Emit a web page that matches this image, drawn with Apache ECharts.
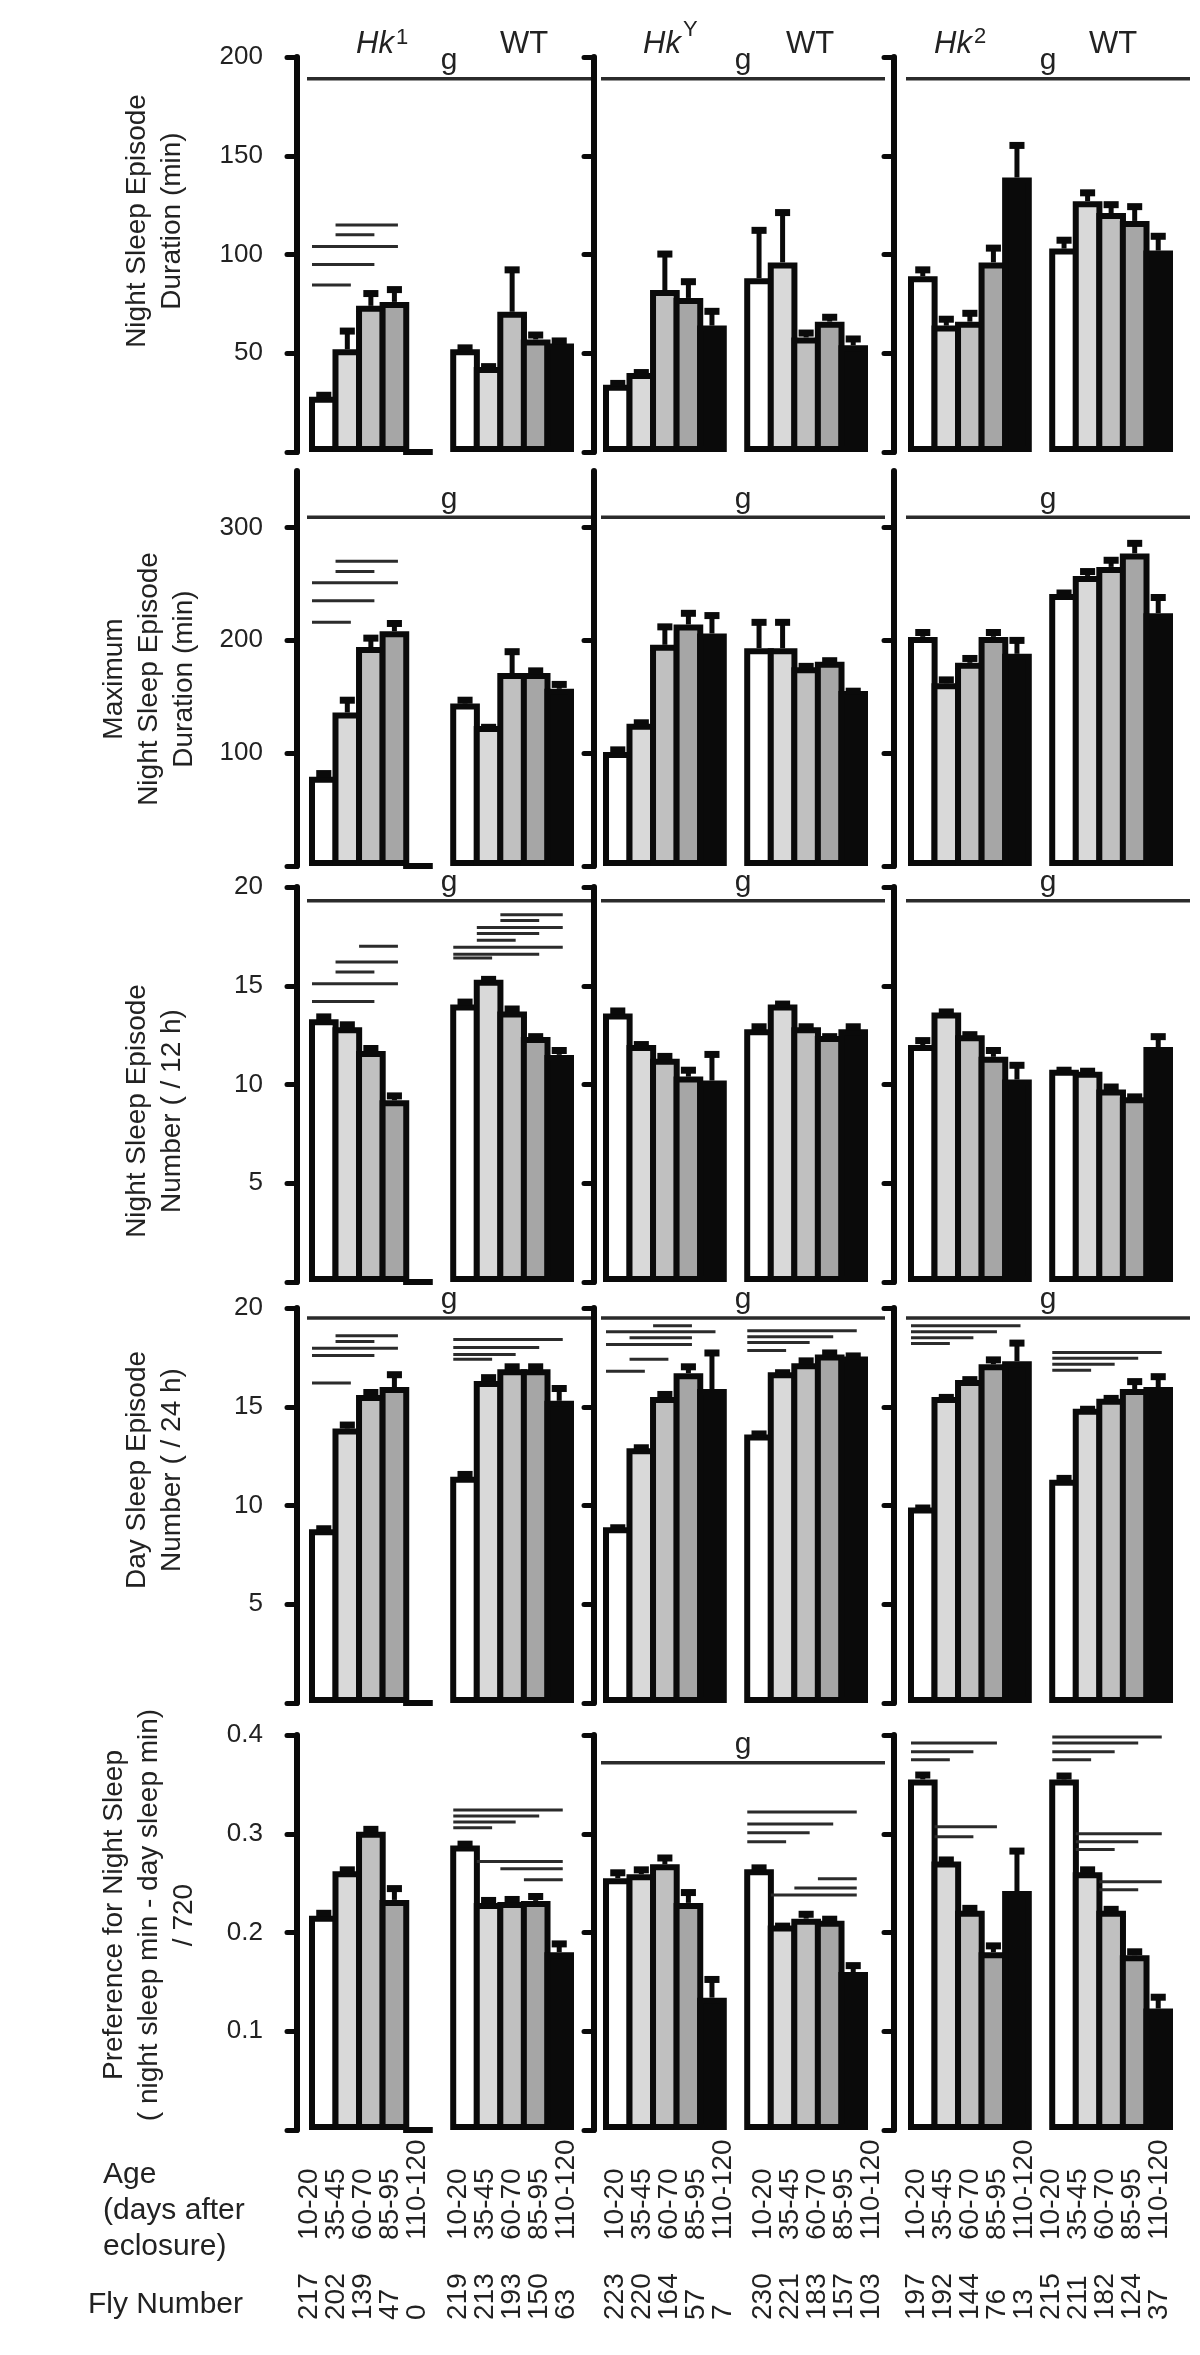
<!DOCTYPE html>
<html><head><meta charset="utf-8">
<script src="https://cdn.jsdelivr.net/npm/echarts@6/dist/echarts.min.js"></script>
<style>html,body{margin:0;padding:0;background:#fff}#c{width:1200px;height:2355px}</style>
</head><body><div id="c"></div>
<script>
// ---------------- DATA ----------------
const ages = ['10-20', '35-45', '60-70', '85-95', '110-120'];
const mutants = ['1', 'Y', '2'];            // Hk superscripts per column
const flyMut = [[217, 202, 139, 47, 0], [223, 220, 164, 57, 7], [197, 192, 144, 76, 13]];
const flyWT  = [[219, 213, 193, 150, 63], [230, 221, 183, 157, 103], [215, 211, 182, 124, 37]];

// Row 1: Night sleep episode duration (min)
const durMut    = [[28, 52, 74, 76, 0], [34, 40, 82, 78, 64], [89, 64, 66, 96, 139]];
const durMutErr = [[2.5, 11, 8, 8, null], [2.5, 2, 20, 10, 9], [5, 5, 6, 9, 18]];
const durWT     = [[52, 43, 71, 57, 55], [88, 96, 58, 66, 54], [103, 127, 121, 117, 102]];
const durWTErr  = [[2.5, 2, 23, 4, 3], [26, 27, 4, 4, 5], [6, 6, 6, 9, 9]];
const durSig    = [[[0, 1, 84.5], [0, 2, 95], [0, 3, 104], [1, 2, 110], [1, 3, 115]], [], []];
const durG      = [189, 189, 189];

// Row 2: Maximum night sleep episode duration (min)
const maxMut    = [[79, 136, 194, 208, 0], [101, 126, 196, 214, 206], [203, 162, 180, 203, 188]];
const maxMutErr = [[6, 14, 11, 10, null], [5, 4, 19, 13, 19], [7, 6, 7, 7, 15]];
const maxWT     = [[144, 124, 171, 171, 157], [193, 193, 176, 181, 155], [241, 257, 265, 277, 224]];
const maxWTErr  = [[6, 2, 22, 5, 7], [26, 26, 4, 4, 3], [4, 7, 9, 12, 17]];
const maxSig    = [[[0, 1, 216], [0, 2, 235], [0, 3, 251], [1, 2, 261], [1, 3, 270]], [], []];
const maxG      = [309, 309, 309];

// Row 3: Night sleep episode number (/12 h)
const nNumMut    = [[13.3, 12.9, 11.7, 9.2, 0], [13.6, 12.0, 11.3, 10.4, 10.2], [12.0, 13.65, 12.5, 11.4, 10.25]];
const nNumMutErr = [[0.3, 0.3, 0.3, 0.4, null], [0.3, 0.2, 0.3, 0.5, 1.5], [0.4, 0.2, 0.2, 0.5, 0.9]];
const nNumWT     = [[14.05, 15.3, 13.7, 12.4, 11.5], [12.8, 14.05, 12.9, 12.45, 12.8], [10.75, 10.65, 9.75, 9.35, 11.9]];
const nNumWTErr  = [[0.3, 0.2, 0.3, 0.2, 0.4], [0.3, 0.2, 0.2, 0.15, 0.3], [0.15, 0.2, 0.3, 0.2, 0.7]];
const nNumSig    = [[[0, 2, 14.2], [0, 3, 15.1], [1, 2, 15.7], [1, 3, 16.2], [2, 3, 17.0],
                     [6, 7, 16.4], [6, 9, 16.6], [6, 10, 16.95], [7, 8, 17.3], [7, 9, 17.65], [7, 10, 17.95], [8, 9, 18.3], [8, 10, 18.6]], [], []];
const nNumG      = [19.3, 19.3, 19.3];

// Row 4: Day sleep episode number (/24 h)
const dNumMut    = [[8.8, 13.9, 15.6, 16.0, 0], [8.9, 12.9, 15.5, 16.7, 15.9], [9.9, 15.5, 16.35, 17.15, 17.3]];
const dNumMutErr = [[0.2, 0.35, 0.3, 0.8, null], [0.15, 0.2, 0.3, 0.5, 2.0], [0.15, 0.15, 0.2, 0.4, 1.1]];
const dNumWT     = [[11.45, 16.3, 16.9, 16.9, 15.3], [13.6, 16.75, 17.2, 17.65, 17.55], [11.3, 14.9, 15.4, 15.9, 16.0]];
const dNumWTErr  = [[0.3, 0.35, 0.3, 0.3, 0.8], [0.2, 0.15, 0.3, 0.25, 0.2], [0.25, 0.15, 0.2, 0.55, 0.7]];
const dNumSig    = [
  [[0, 1, 16.2], [0, 2, 17.6], [0, 3, 17.96], [1, 2, 18.3], [1, 3, 18.6], [6, 7, 17.4], [6, 8, 17.65], [6, 9, 18.0], [6, 10, 18.4]],
  [[0, 1, 16.8], [1, 2, 17.4], [0, 3, 18.15], [1, 3, 18.5], [0, 4, 18.8], [2, 3, 19.1], [6, 7, 17.85], [6, 8, 18.25], [6, 9, 18.55], [6, 10, 18.85]],
  [[0, 1, 18.2], [0, 2, 18.5], [0, 3, 18.8], [0, 4, 19.1], [6, 7, 16.85], [6, 8, 17.15], [6, 9, 17.45], [6, 10, 17.75]]];
const dNumG      = [19.5, 19.5, 19.5];

// Row 5: Preference for night sleep
const prefMut    = [[0.217, 0.262, 0.302, 0.233, 0], [0.255, 0.259, 0.269, 0.230, 0.134], [0.355, 0.272, 0.222, 0.180, 0.242]];
const prefMutErr = [[0.006, 0.005, 0.006, 0.015, null], [0.009, 0.008, 0.010, 0.014, 0.022], [0.008, 0.005, 0.006, 0.010, 0.044]];
const prefWT     = [[0.288, 0.230, 0.231, 0.232, 0.180], [0.264, 0.207, 0.214, 0.212, 0.160], [0.355, 0.261, 0.222, 0.177, 0.123]];
const prefWTErr  = [[0.005, 0.006, 0.006, 0.008, 0.012], [0.005, 0.003, 0.008, 0.005, 0.010], [0.007, 0.006, 0.005, 0.007, 0.015]];
const prefSig    = [
  [[6, 7, 0.306], [6, 8, 0.312], [6, 9, 0.318], [6, 10, 0.324], [9, 10, 0.2535], [8, 10, 0.2646], [7, 10, 0.272]],
  [[6, 7, 0.292], [6, 8, 0.301], [6, 9, 0.310], [6, 10, 0.322], [9, 10, 0.2545], [8, 10, 0.245], [7, 10, 0.238]],
  [[0, 1, 0.375], [0, 2, 0.383], [0, 3, 0.392], [1, 2, 0.297], [1, 3, 0.307],
   [6, 7, 0.375], [6, 8, 0.383], [6, 9, 0.392], [6, 10, 0.398], [7, 8, 0.284], [7, 9, 0.292], [7, 10, 0.300], [8, 9, 0.2434], [8, 10, 0.2515]]];
const prefG      = [null, 0.372, null];

const rowMax        = [200, 350, 20, 20, 0.4];
const rowInterval   = [50, 100, 5, 5, 0.1];
const rowTicks      = [[0, 50, 100, 150, 200], [0, 100, 200, 300], [0, 5, 10, 15, 20], [0, 5, 10, 15, 20], [0, 0.1, 0.2, 0.3, 0.4]];
const rowTickLabels = [[50, 100, 150, 200], [100, 200, 300], [5, 10, 15, 20], [5, 10, 15, 20], [0.1, 0.2, 0.3, 0.4]];
const rowTitles = [
  'Night Sleep Episode\nDuration (min)',
  'Maximum\nNight Sleep Episode\nDuration (min)',
  'Night Sleep Episode\nNumber ( / 12 h)',
  'Day Sleep Episode\nNumber ( / 24 h)',
  'Preference for Night Sleep\n( night sleep min - day sleep min)\n/ 720'];

const rows = [
  [durMut, durMutErr, durWT, durWTErr, durSig, durG],
  [maxMut, maxMutErr, maxWT, maxWTErr, maxSig, maxG],
  [nNumMut, nNumMutErr, nNumWT, nNumWTErr, nNumSig, nNumG],
  [dNumMut, dNumMutErr, dNumWT, dNumWTErr, dNumSig, dNumG],
  [prefMut, prefMutErr, prefWT, prefWTErr, prefSig, prefG]];

// ---------------- LAYOUT / STYLE ----------------
const FONT = '"Liberation Sans", Arial, Helvetica, sans-serif';
const INK = '#0a0a0a', TXT = '#222222', LINE = '#2b2b2b';
const barColors = ['#ffffff', '#d9d9d9', '#c0c0c0', '#a6a6a6', '#0a0a0a'];
const axisX = [297, 594, 894];
const gridLeft = [312, 606, 911];
const rowTop = [57, 471, 887, 1308, 1735];
const plotH = 395, plotW = 259;
const slotW = plotW / 11;
const labelPitch = 27;
const labelShift = [[-8, 0], [4, 11], [0, -6]];

const grids = [], xAxes = [], yAxes = [], series = [];

function errRender(params, api) {
  const x = api.value(0), v = api.value(1), e = api.value(2);
  const p0 = api.coord([x, v]), p1 = api.coord([x, v + e]);
  const bw = api.size([1, 0])[0];
  const capW = bw * 0.64;
  return { type: 'group', children: [
    { type: 'line', shape: { x1: p0[0], y1: p0[1], x2: p1[0], y2: p1[1] + 3 }, style: { stroke: INK, lineWidth: 5 } },
    { type: 'rect', shape: { x: p1[0] - capW / 2, y: p1[1], width: capW, height: 7 }, style: { fill: INK } }
  ]};
}
function sigRender(params, api) {
  const i = api.value(0), j = api.value(1), y = api.value(2);
  const bw = api.size([1, 0])[0];
  const a = api.coord([i, y]), b = api.coord([j, y]);
  return { type: 'line', shape: { x1: a[0] - 0.5 * bw, y1: a[1], x2: b[0] + 0.15 * bw, y2: b[1] },
    style: { stroke: LINE, lineWidth: 3 } };
}
function gRender(params, api) {
  const y = api.value(1);
  const bw = api.size([1, 0])[0];
  const a = api.coord([0, y]), b = api.coord([10, y]);
  const x1 = a[0] - 0.5 * bw - 5, x2 = b[0] + 0.5 * bw + 20;
  return { type: 'group', children: [
    { type: 'line', shape: { x1: x1, y1: a[1], x2: x2, y2: a[1] }, style: { stroke: LINE, lineWidth: 3.5 } },
    { type: 'text', x: (x1 + x2) / 2, y: a[1] - 18, style: { text: 'g', fill: TXT, fontSize: 30, fontFamily: FONT,
        align: 'center', verticalAlign: 'middle', textAlign: 'center', textVerticalAlign: 'middle' } }
  ]};
}

rows.forEach((row, r) => {
  const [mut, mutErr, wt, wtErr, sig, g] = row;
  for (let p = 0; p < 3; p++) {
    const gi = grids.length;
    grids.push({ left: gridLeft[p], top: rowTop[r], width: plotW, height: plotH });
    const cats = Array.from({ length: 11 }, (_, k) => 'c' + k);
    const xi = xAxes.length;
    xAxes.push({ type: 'category', gridIndex: gi, data: cats, boundaryGap: true,
      axisLine: { show: false }, axisTick: { show: false }, splitLine: { show: false }, axisLabel: { show: false } });
    const yi = yAxes.length;
    yAxes.push({ type: 'value', gridIndex: gi, min: 0, max: rowMax[r], interval: rowInterval[r], offset: gridLeft[p] - axisX[p],
      splitLine: { show: false },
      axisLine: { show: true, onZero: false, lineStyle: { color: INK, width: 6, cap: 'round' } },
      axisTick: { show: true, inside: false, length: 10, customValues: rowTicks[r], lineStyle: { color: INK, width: 5, cap: 'round' } },
      axisLabel: { show: p === 0, customValues: rowTickLabels[r], margin: 34, fontSize: 26, color: TXT, fontFamily: FONT } });

    const vals = [...mut[p], null, ...wt[p]];
    const errs = [...mutErr[p], null, ...wtErr[p]];
    series.push({ type: 'bar', xAxisIndex: xi, yAxisIndex: yi, barCategoryGap: '-26%', barGap: '0%', z: 2,
      itemStyle: { borderColor: INK, borderWidth: 6 },
      data: vals.map((v, k) => v == null ? '-' : { value: v, itemStyle: { color: barColors[k < 5 ? k : k - 6] } }) });
    const errData = [];
    vals.forEach((v, k) => { if (v != null && errs[k] != null) errData.push([k, v, errs[k]]); });
    series.push({ type: 'custom', xAxisIndex: xi, yAxisIndex: yi, z: 3, renderItem: errRender,
      encode: { x: 0, y: 1 }, data: errData });
    if (sig[p].length) {
      series.push({ type: 'custom', xAxisIndex: xi, yAxisIndex: yi, z: 4, renderItem: sigRender,
        encode: { x: [0, 1], y: 2 }, data: sig[p] });
    }
    if (g[p] != null) {
      series.push({ type: 'custom', xAxisIndex: xi, yAxisIndex: yi, z: 4, renderItem: gRender,
        encode: { x: 0, y: 1 }, data: [[0, g[p]]] });
    }
  }
});

// Bottom label axes (age, fly number): one small category axis per genotype group under row 5
const lastTop = rowTop[rowTop.length - 1];
for (let p = 0; p < 3; p++) {
  [[flyMut[p], 2.5, labelShift[p][0]], [flyWT[p], 8.5, labelShift[p][1]]].forEach(([flies, slotCenter, dx]) => {
    const cx = gridLeft[p] + slotCenter * slotW + dx;
    const gi = grids.length;
    grids.push({ left: cx - labelPitch * 2.5, top: lastTop, width: labelPitch * 5, height: plotH });
    yAxes.push({ type: 'value', gridIndex: gi, show: false, min: 0, max: 1 });
    const cats = ages.map((_, k) => 'a' + k);
    xAxes.push({ type: 'category', gridIndex: gi, data: cats, position: 'bottom',
      axisLine: { show: false }, axisTick: { show: false }, splitLine: { show: false },
      axisLabel: { show: true, interval: 0, rotate: 90, align: 'left', verticalAlign: 'middle', margin: 110,
        fontSize: 28, color: TXT, fontFamily: FONT, formatter: (v, k) => ages[k] } });
    xAxes.push({ type: 'category', gridIndex: gi, data: cats, position: 'bottom',
      axisLine: { show: false }, axisTick: { show: false }, splitLine: { show: false },
      axisLabel: { show: true, interval: 0, rotate: 90, align: 'left', verticalAlign: 'middle', margin: 190,
        fontSize: 28, color: TXT, fontFamily: FONT, formatter: (v, k) => String(flies[k]) } });
  });
}

// ---------------- TEXT ANNOTATIONS ----------------
const graphic = [];
const titleX = [155, 149, 155, 155, 149];
const titleY = [221, 679, 1111, 1470, 1915];
rowTitles.forEach((t, r) => {
  graphic.push({ type: 'text', x: titleX[r], y: titleY[r], rotation: Math.PI / 2,
    style: { text: t, fill: TXT, fontSize: 28, fontFamily: FONT, lineHeight: 35,
      align: 'center', verticalAlign: 'middle', textAlign: 'center', textVerticalAlign: 'middle' } });
});
const hkLeft = [356, 643, 934];
const supDX = [40, 40, 40];
const supY = [38, 30, 37];
const wtCenter = [524, 810, 1113];
for (let p = 0; p < 3; p++) {
  graphic.push({ type: 'text', x: hkLeft[p], y: 44,
    style: { text: 'Hk', fill: TXT, fontSize: 31, fontStyle: 'italic', fontFamily: FONT, align: 'left', verticalAlign: 'middle' } });
  graphic.push({ type: 'text', x: hkLeft[p] + supDX[p], y: supY[p],
    style: { text: mutants[p], fill: TXT, fontSize: 22, fontFamily: FONT, align: 'left', verticalAlign: 'middle' } });
  graphic.push({ type: 'text', x: wtCenter[p], y: 44,
    style: { text: 'WT', fill: TXT, fontSize: 31, fontFamily: FONT, align: 'center', verticalAlign: 'middle' } });
}
graphic.push({ type: 'text', x: 103, y: 2211,
  style: { text: 'Age\n(days after\neclosure)', fill: TXT, fontSize: 30, fontFamily: FONT, lineHeight: 36, align: 'left', verticalAlign: 'middle' } });
graphic.push({ type: 'text', x: 88, y: 2305,
  style: { text: 'Fly Number', fill: TXT, fontSize: 30, fontFamily: FONT, align: 'left', verticalAlign: 'middle' } });

const chart = echarts.init(document.getElementById('c'), null, { renderer: 'canvas', width: 1200, height: 2355 });
chart.setOption({ animation: false, backgroundColor: '#ffffff', grid: grids, xAxis: xAxes, yAxis: yAxes, series: series, graphic: graphic });
</script></body></html>
